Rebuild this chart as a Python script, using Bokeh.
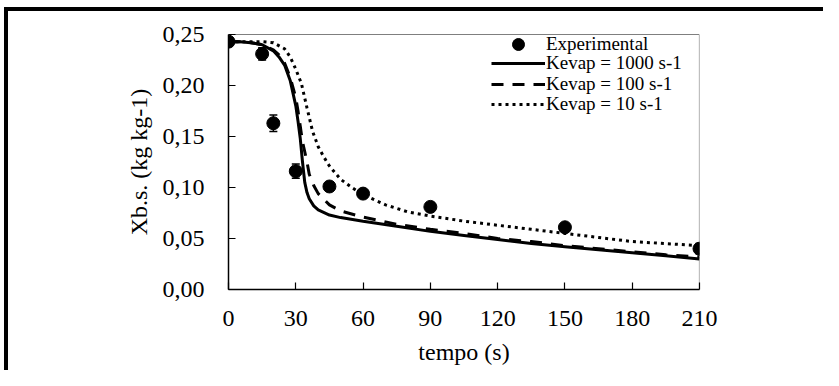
from bokeh.plotting import figure
from bokeh.models import (Range1d, FixedTicker, Legend, LegendItem, ColumnDataSource,
                          Whisker, TeeHead)
from bokeh.embed import file_html
from bokeh.resources import INLINE

# ---------------- data ----------------
t_exp = [0, 15, 20, 30, 45, 60, 90, 150, 210]
x_exp = [0.243, 0.231, 0.163, 0.116, 0.101, 0.094, 0.081, 0.061, 0.040]
err_exp = [0.002, 0.006, 0.008, 0.007, 0.003, 0.003, 0.002, 0.002, 0.005]

t_1000 = [0, 5, 10, 15, 20, 22.5, 25, 27.5, 30, 31, 32, 33, 34, 35, 36, 38, 40, 45, 50,
          60, 75, 90, 105, 120, 135, 150, 165, 180, 195, 210]
x_1000 = [0.243, 0.243, 0.242, 0.240, 0.234, 0.228, 0.220, 0.205, 0.180, 0.165, 0.148,
          0.125, 0.105, 0.095, 0.089, 0.082, 0.078, 0.073, 0.0705, 0.067, 0.062, 0.057,
          0.053, 0.049, 0.045, 0.042, 0.039, 0.036, 0.033, 0.030]

t_100 = [0, 5, 10, 15, 20, 22.5, 25, 27.5, 30, 31, 32, 33, 34, 35, 36, 38, 40, 45, 50,
         60, 75, 90, 105, 120, 135, 150, 165, 180, 195, 210]
x_100 = [0.243, 0.243, 0.242, 0.240, 0.235, 0.230, 0.222, 0.208, 0.188, 0.175, 0.160,
         0.145, 0.135, 0.125, 0.113, 0.102, 0.094, 0.083, 0.077, 0.071, 0.064, 0.059,
         0.055, 0.050, 0.047, 0.043, 0.040, 0.037, 0.034, 0.032]

t_10 = [0, 10, 15, 20, 25, 27.5, 30, 32.5, 35, 37.5, 40, 42.5, 45, 50, 55, 60, 70, 80,
        90, 105, 120, 135, 150, 165, 180, 195, 210]
x_10 = [0.243, 0.243, 0.243, 0.242, 0.236, 0.228, 0.216, 0.202, 0.178, 0.155, 0.140,
        0.130, 0.121, 0.108, 0.100, 0.093, 0.083, 0.076, 0.072, 0.067, 0.063, 0.059,
        0.055, 0.051, 0.047, 0.045, 0.043]

x_ticks = [0, 30, 60, 90, 120, 150, 180, 210]
y_ticks = [0.0, 0.05, 0.10, 0.15, 0.20, 0.25]
y_tick_labels = ["0,00", "0,05", "0,10", "0,15", "0,20", "0,25"]
x_min, x_max = 0, 210
y_min, y_max = 0.0, 0.25

legend_labels = ["Experimental", "Kevap = 1000 s-1", "Kevap = 100 s-1", "Kevap = 10 s-1"]

FONT = "Liberation Serif"

# ---------------- figure ----------------
p = figure(frame_width=471, frame_height=255,
           x_range=Range1d(x_min, x_max), y_range=Range1d(y_min, y_max),
           output_backend="svg", toolbar_location=None,
           min_border_left=228, min_border_right=124, min_border_top=34, min_border_bottom=81)
# outer frame of the surrounding table cell (top and left rules)
p.styles = {
    "background-color": "white",
    "background-image": "linear-gradient(black, black), linear-gradient(black, black)",
    "background-size": "819px 4px, 4px 380px",
    "background-position": "4px 7px, 4px 7px",
    "background-repeat": "no-repeat, no-repeat",
}
p.background_fill_color = "white"
p.border_fill_alpha = 0
p.outline_line_color = None
p.grid.visible = False

# axes
xa = p.xaxis[0]
ya = p.yaxis[0]
xa.ticker = FixedTicker(ticks=x_ticks)
ya.ticker = FixedTicker(ticks=y_ticks)
ya.major_label_overrides = {t: l for t, l in zip(y_ticks, y_tick_labels)}
for ax in (xa, ya):
    ax.axis_line_color = "black"
    ax.axis_line_width = 1.5
    ax.major_tick_line_color = "black"
    ax.major_tick_line_width = 1.2
    ax.major_tick_in = 7
    ax.major_tick_out = 0
    ax.minor_tick_line_color = None
    ax.major_label_text_font = FONT
    ax.major_label_text_font_size = "24px"
    ax.major_label_text_color = "black"
    ax.axis_label_text_font = FONT
    ax.axis_label_text_font_size = "24px"
    ax.axis_label_text_font_style = "normal"
    ax.axis_label_text_color = "black"
xa.axis_label = "tempo (s)"
ya.axis_label = "Xb.s. (kg kg-1)"
xa.major_label_standoff = 21
ya.major_label_standoff = 24
xa.axis_label_standoff = 10
ya.axis_label_standoff = 8

# plot-area border: black top, grey right
p.segment(x0=[x_min], y0=[y_max], x1=[x_max], y1=[y_max], line_color="black", line_width=1.2)
p.segment(x0=[x_max], y0=[y_min], x1=[x_max], y1=[y_max], line_color="#808080", line_width=1.2)

# curves
r1000 = p.line(t_1000, x_1000, line_color="black", line_width=3)
r100 = p.line(t_100, x_100, line_color="black", line_width=3, line_dash="12 9")
r10 = p.line(t_10, x_10, line_color="black", line_width=3, line_dash="3 4")

# experimental points with error bars
src = ColumnDataSource(dict(t=t_exp, x=x_exp,
                            lo=[a - b for a, b in zip(x_exp, err_exp)],
                            up=[a + b for a, b in zip(x_exp, err_exp)]))
wh = Whisker(base="t", lower="lo", upper="up", source=src, dimension="height",
             line_color="black", line_width=1.5,
             upper_head=TeeHead(size=8, line_color="black", line_width=1.5),
             lower_head=TeeHead(size=8, line_color="black", line_width=1.5))
p.add_layout(wh)
rexp = p.scatter("t", "x", source=src, size=13, color="black")

# one legend per row so that the row pitch matches the reference
renderers = [rexp, r1000, r100, r10]
row_bottoms = [230, 211, 190, 170]
for lab, rend, yb in zip(legend_labels, renderers, row_bottoms):
    lg = Legend(items=[LegendItem(label=lab, renderers=[rend])], location=(263, yb))
    lg.label_text_font = FONT
    lg.label_text_font_size = "19px"
    lg.label_text_color = "black"
    lg.glyph_width = 54
    lg.glyph_height = 30
    lg.label_height = 18
    lg.label_standoff = 1
    lg.padding = 0
    lg.margin = 0
    lg.border_line_color = None
    lg.background_fill_alpha = 0
    p.add_layout(lg)

open("out.html", "w").write(file_html(p, INLINE))
